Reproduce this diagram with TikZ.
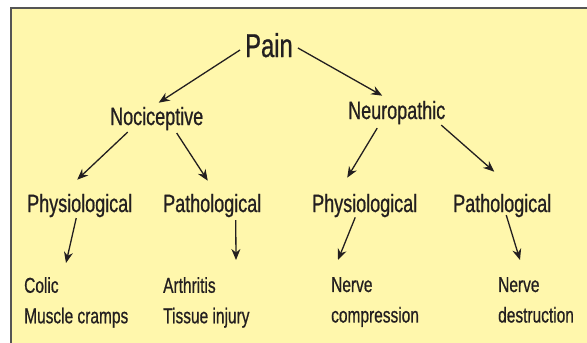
\documentclass[tikz,border=0pt]{standalone}
\usepackage{fontspec}
\setmainfont{Liberation Sans}[FakeStretch=0.72,FakeBold=0.7]
\usepackage{tikz}
\usetikzlibrary{arrows.meta,positioning}
\definecolor{pad}{RGB}{255,247,172}
\definecolor{rim}{RGB}{85,85,85}
\definecolor{ink}{RGB}{35,31,32}

\begin{document}
\begin{tikzpicture}[x=1pt,y=-1pt,>={Stealth[length=11pt,width=9pt]}]
\tikzset{top/.style={inner sep=0pt,anchor=base west,text=ink,font=\fontsize{33}{38}\selectfont},
 kind/.style={inner sep=0pt,anchor=base west,text=ink,font=\fontsize{25}{30}\selectfont},
 leaf/.style={inner sep=0pt,anchor=north west,text=ink,align=left,font=\fontsize{21.5}{30.5}\selectfont},
 link/.style={->,draw=ink,line width=1.3pt}}
\useasboundingbox (0,0) rectangle (587,343);
\clip (0,0) rectangle (587,343);
\draw[fill=pad,draw=rim,line width=2pt] (11,8) rectangle (610,370);
% tree
\node[top] (pain) at (245,57) {Pain};
\node[kind] (noci) at (110,125) {Nociceptive};
\node[kind] (neuro) at (348,119) {Neuropathic};
\node[kind] (phys1) at (27,212) {Physiological};
\node[kind] (path1) at (163,212) {Pathological};
\node[kind] (phys2) at (312,212) {Physiological};
\node[kind] (path2) at (453,212) {Pathological};
\node[leaf] (leaf1) at (24,277) {Colic\\Muscle cramps};
\node[leaf] (leaf2) at (163,277) {Arthritis\\Tissue injury};
\node[leaf] (leaf3) at (331,277) {Nerve\\compression};
\node[leaf] (leaf4) at (498,277) {Nerve\\destruction};
% arrows
\draw[link] ([xshift=-5pt,yshift=-4.8pt]pain.west) -- ([xshift=2pt,yshift=4pt]noci.north);
\draw[link] ([xshift=5pt,yshift=-2.8pt]pain.east) -- ([xshift=-14.5pt,yshift=5pt]neuro.north);
\draw[link] ([xshift=-29pt,yshift=-1.7pt]noci.south) -- ([xshift=-2.5pt,yshift=14pt]phys1.north);
\draw[link] ([xshift=20pt,yshift=-2.7pt]noci.south) -- ([xshift=-4.5pt,yshift=13pt]path1.north);
\draw[link] ([xshift=-19.5pt,yshift=-3.7pt]neuro.south) -- ([xshift=-17.5pt,yshift=16pt]phys2.north);
\draw[link] ([xshift=44.5pt,yshift=-0.7pt]neuro.south) -- ([xshift=-8pt,yshift=22pt]path2.north);
\draw[link] ([xshift=-3.5pt,yshift=-0.7pt]phys1.south) -- ([xshift=42pt,yshift=14pt]leaf1.north west);
\draw[link] ([xshift=23.5pt,yshift=-2.7pt]path1.south) -- ([xshift=73pt,yshift=17pt]leaf2.north west);
\draw[link] ([xshift=-9.5pt]phys2.south) -- ([xshift=7pt,yshift=17pt]leaf3.north west);
\draw[link] ([xshift=4pt,yshift=2.3pt]path2.south) -- ([xshift=22pt,yshift=17pt]leaf4.north west);
\end{tikzpicture}
\end{document}
